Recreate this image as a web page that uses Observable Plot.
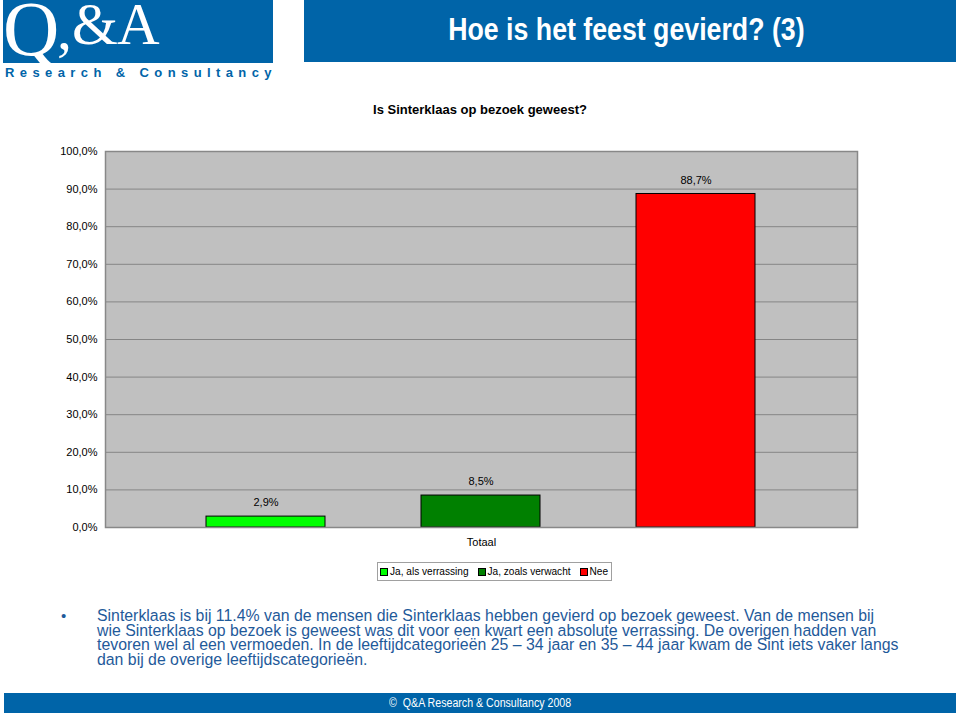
<!DOCTYPE html>
<html>
<head>
<meta charset="utf-8">
<script src="https://cdn.jsdelivr.net/npm/d3@7"></script>
<script src="https://cdn.jsdelivr.net/npm/@observablehq/plot@0.6"></script>
<style>
  html, body { margin: 0; padding: 0; background: #fff; }
  #page { position: relative; width: 960px; height: 716px; overflow: hidden; font-family: "Liberation Sans", Arial, sans-serif; }
  .abs { position: absolute; }
  #logo { left: 0; top: 0; }
  #rc { left: 5px; top: 65px; font-weight: bold; color: #0064a8; font-size: 13px; letter-spacing: 5.4px; white-space: nowrap; }
  #titlebar { left: 304px; top: 0; width: 652px; height: 62px; background: #0064a8; }
  #titletext { position: absolute; left: -4px; top: 0; width: 652px; text-align: center; color: #fff; font-weight: bold; font-size: 32px; line-height: 58px; white-space: nowrap; }
  #titletext span { display: inline-block; transform: scaleX(0.835); transform-origin: center; }
  #sub { left: 0; width: 960px; top: 102px; text-align: center; font-weight: bold; font-size: 13px; color: #000; }
  #chart { left: 0; top: 130px; }
  #legend { left: 377px; top: 562px; height: 19px; border: 1px solid #a0a0a0; background: #fff; font-size: 10.1px; color: #000; display: flex; align-items: center; gap: 9px; padding: 0 3px 0 2px; box-sizing: border-box; white-space: nowrap; }
  #legend i { display: inline-block; box-sizing: border-box; width: 8px; height: 8px; border: 1px solid #000; margin-right: 2px; vertical-align: -1px; }
  #bullet { left: 61px; top: 609px; font-size: 15px; line-height: 14.7px; color: #1f5a9a; }
  #text { left: 97px; top: 609px; font-size: 15.85px; line-height: 14.7px; color: #1f5a9a; white-space: nowrap; }
  #footer { left: 4px; top: 693px; width: 952px; height: 20px; background: #0064a8; }
  #footer div { width: 952px; text-align: center; color: #fff; font-size: 12.5px; line-height: 20px; white-space: nowrap; }
  #footer span { display: inline-block; transform: scaleX(0.85); }
</style>
</head>
<body>
<div id="page">
  <svg id="logo" class="abs" width="280" height="64">
    <rect x="3" y="0" width="270" height="63" fill="#0064a8"></rect>
    <text x="3" y="55" font-family="Liberation Serif, DejaVu Serif, serif" font-size="78" fill="#fff">Q</text>
    <text x="57" y="49" font-family="Liberation Serif, DejaVu Serif, serif" font-size="60" fill="#fff">,</text>
    <text x="72" y="44" font-family="Liberation Serif, DejaVu Serif, serif" font-size="59" fill="#fff" letter-spacing="-1">&amp;A</text>
  </svg>
  <div id="rc" class="abs">Research &amp; Consultancy</div>
  <div id="titlebar" class="abs"><div id="titletext"><span>Hoe is het feest gevierd? (3)</span></div></div>
  <div id="sub" class="abs">Is Sinterklaas op bezoek geweest?</div>
  <div id="chart" class="abs"></div>
  <div id="legend" class="abs"></div>
  <div id="bullet" class="abs">•</div>
  <div id="text" class="abs">Sinterklaas is bij 11.4% van de mensen die Sinterklaas hebben gevierd op bezoek geweest. Van de mensen bij<br>wie Sinterklaas op bezoek is geweest was dit voor een kwart een absolute verrassing. De overigen hadden van<br>tevoren wel al een vermoeden. In de leeftijdcategorieën 25 – 34 jaar en 35 – 44 jaar kwam de Sint iets vaker langs<br>dan bij de overige leeftijdscategorieën.</div>
  <div id="footer" class="abs"><div><span>©&nbsp;&nbsp;Q&amp;A Research &amp; Consultancy 2008</span></div></div>
</div>
<script>
const series = ["Ja, als verrassing", "Ja, zoals verwacht", "Nee"];
const values = [2.9, 8.5, 88.7];
const colors = ["#00ff00", "#008000", "#ff0000"];
const category = "Totaal";
const yTicks = [0, 10, 20, 30, 40, 50, 60, 70, 80, 90, 100];

const data = series.map((s, i) => ({series: s, value: values[i]}));
const fmt = v => v.toFixed(1).replace(".", ",") + "%";

const chart = Plot.plot({
  width: 960,
  height: 422,
  marginLeft: 105,
  marginRight: 103,
  marginTop: 21,
  marginBottom: 25,
  style: {fontFamily: "Liberation Sans, Arial, sans-serif", fontSize: "11px", color: "#000", background: "transparent"},
  x: {domain: series, paddingInner: 0.4465, paddingOuter: 0.472, axis: null},
  y: {domain: [0, 100], ticks: yTicks, tickFormat: fmt, label: null},
  color: {domain: series, range: colors},
  marks: [
    Plot.frame({fill: "#c0c0c0", stroke: "none"}),
    Plot.ruleY(yTicks, {stroke: "#858585", strokeWidth: 1}),
    Plot.axisY({ticks: yTicks, tickFormat: fmt, tickSize: 0, tickPadding: 8, fontSize: 11, label: null}),
    Plot.barY(data, {x: "series", y: "value", fill: "series", stroke: "#000", strokeWidth: 1}),
    Plot.text(data, {x: "series", y: "value", text: d => fmt(d.value), dy: -14, fontSize: 11, fill: "#000"}),
    Plot.text([category], {frameAnchor: "bottom", dy: 18, fontSize: 11, fill: "#000"}),
    Plot.frame({stroke: "#888888", strokeWidth: 1.5})
  ]
});
document.getElementById("chart").appendChild(chart);

const legend = document.getElementById("legend");
series.forEach((s, i) => {
  const item = document.createElement("span");
  item.innerHTML = `<i style="background:${colors[i]}"></i>${s}`;
  legend.appendChild(item);
});
</script>
</body>
</html>
